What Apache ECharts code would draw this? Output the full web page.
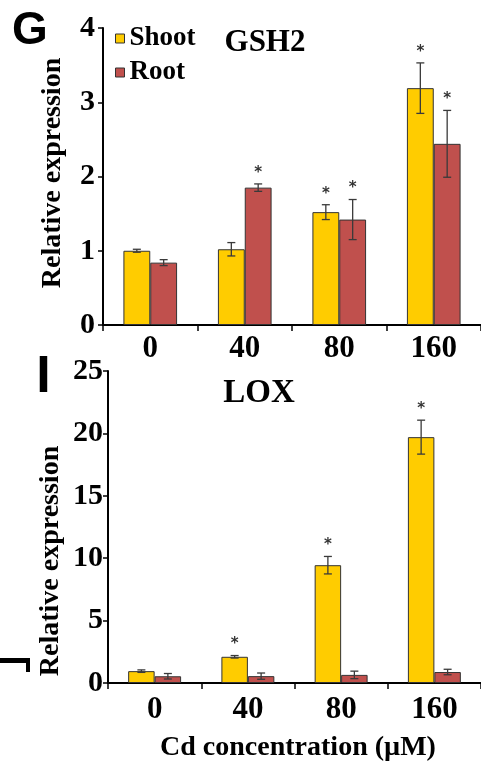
<!DOCTYPE html>
<html>
<head>
<meta charset="utf-8">
<script src="https://cdn.jsdelivr.net/npm/echarts@6/dist/echarts.min.js"></script>
<style>
  html, body { margin: 0; padding: 0; background: #fff; }
  #chart { width: 481px; height: 766px; }
</style>
</head>
<body>
<div id="chart"></div>
<script>
// Cd concentration (µM)
const categories = ['0', '40', '80', '160']

// GSH2
const gshShoot = [1.0, 1.02, 1.52, 3.19]
const gshShootErr = [0.02, 0.09, 0.10, 0.34]
const gshShootSig = [0, 0, 1, 1]
const gshRoot = [0.84, 1.85, 1.42, 2.44]
const gshRootErr = [0.04, 0.05, 0.27, 0.45]
const gshRootSig = [0, 1, 1, 1]

// LOX
const loxShoot = [0.95, 2.1, 9.44, 19.7]
const loxShootErr = [0.1, 0.1, 0.7, 1.36]
const loxShootSig = [0, 1, 1, 1]
const loxRoot = [0.54, 0.55, 0.65, 0.88]
const loxRootErr = [0.22, 0.25, 0.3, 0.22]
const loxRootSig = [0, 0, 0, 0]

const gshTicks = { min: 0, max: 4, interval: 1 }
const loxTicks = { min: 0, max: 25, interval: 5 }

const SHOOT = '#FFCC00'
const ROOT = '#C0504D'
const serif = 'Liberation Serif'

const chart = echarts.init(document.getElementById('chart'))

// 误差线 + 显著性星号
const errRender = (offsetFrac) => (params, api) => {
  const i = api.value(0)
  const m = api.value(1)
  const e = api.value(2)
  const sig = api.value(3)
  const band = api.size([1, 0])[0]
  const hi = api.coord([i, m + e])
  const lo = api.coord([i, Math.max(0, m - e)])
  const x = hi[0] + band * offsetFrac
  const cap = 4
  const ls = { stroke: '#3a3a3a', lineWidth: 1.3 }
  const children = [
    { type: 'line', shape: { x1: x, y1: hi[1], x2: x, y2: lo[1] }, style: ls },
    { type: 'line', shape: { x1: x - cap, y1: hi[1], x2: x + cap, y2: hi[1] }, style: ls },
    { type: 'line', shape: { x1: x - cap, y1: lo[1], x2: x + cap, y2: lo[1] }, style: ls }
  ]
  if (sig) {
    children.push({
      type: 'text',
      x: x,
      y: hi[1] - 11,
      style: {
        text: '*',
        fill: '#333',
        font: 'bold 15px "DejaVu Sans"',
        align: 'center',
        verticalAlign: 'middle'
      }
    })
  }
  return { type: 'group', children }
}

const errData = (vals, errs, sig) => vals.map((v, i) => [i, v, errs[i], sig[i]])

const barSeries = (name, data, idx, color) => ({
  name,
  type: 'bar',
  data,
  xAxisIndex: idx,
  yAxisIndex: idx,
  barWidth: '28.4%',
  barGap: '0%',
  itemStyle: { color, borderColor: '#333', borderWidth: 1 },
  z: 2
})

const errSeries = (data, idx, frac) => ({
  type: 'custom',
  data,
  xAxisIndex: idx,
  yAxisIndex: idx,
  renderItem: errRender(frac),
  encode: { x: 0, y: 1 },
  z: 3,
  silent: true
})

const xAxisBase = (idx, margin) => ({
  type: 'category',
  gridIndex: idx,
  data: categories,
  axisLine: { lineStyle: { color: '#000', width: 2 } },
  axisTick: { show: true, length: 6, lineStyle: { color: '#000', width: 1.5 } },
  axisLabel: {
    margin,
    color: '#000',
    fontFamily: serif,
    fontWeight: 'bold',
    fontSize: 31
  }
})

const yAxisBase = (idx, ticks, margin) => ({
  type: 'value',
  gridIndex: idx,
  min: ticks.min,
  max: ticks.max,
  interval: ticks.interval,
  axisLine: { show: true, lineStyle: { color: '#000', width: 2 } },
  axisTick: { show: true, length: 5, lineStyle: { color: '#000', width: 1.5 } },
  splitLine: { show: false },
  axisLabel: {
    margin,
    color: '#000',
    fontFamily: serif,
    fontWeight: 'bold',
    fontSize: 30
  }
})

const option = {
  backgroundColor: '#fff',
  animation: false,
  title: [
    {
      text: 'GSH2',
      left: 260,
      top: 38,
      textAlign: 'center',
      textVerticalAlign: 'middle',
      textStyle: { fontFamily: serif, fontWeight: 'bold', fontSize: 31, color: '#000' }
    },
    {
      text: 'LOX',
      left: 254,
      top: 388,
      textAlign: 'center',
      textVerticalAlign: 'middle',
      textStyle: { fontFamily: serif, fontWeight: 'bold', fontSize: 33, color: '#000' }
    }
  ],
  legend: {
    orient: 'vertical',
    left: 110,
    top: 20,
    itemWidth: 9,
    itemHeight: 9,
    itemGap: 7,
    icon: 'rect',
    data: ['Shoot', 'Root'],
    itemStyle: { borderColor: '#333', borderWidth: 1 },
    textStyle: { fontFamily: serif, fontWeight: 'bold', fontSize: 27, color: '#000' }
  },
  grid: [
    { left: 103, top: 28, width: 388, height: 297 },
    { left: 108, top: 371, width: 386, height: 312 }
  ],
  xAxis: [xAxisBase(0, 8), xAxisBase(1, 11)],
  yAxis: [yAxisBase(0, gshTicks, 8), yAxisBase(1, loxTicks, 5)],
  series: [
    barSeries('Shoot', gshShoot, 0, SHOOT),
    barSeries('Root', gshRoot, 0, ROOT),
    errSeries(errData(gshShoot, gshShootErr, gshShootSig), 0, -0.142),
    errSeries(errData(gshRoot, gshRootErr, gshRootSig), 0, 0.142),
    barSeries('Shoot', loxShoot, 1, SHOOT),
    barSeries('Root', loxRoot, 1, ROOT),
    errSeries(errData(loxShoot, loxShootErr, loxShootSig), 1, -0.142),
    errSeries(errData(loxRoot, loxRootErr, loxRootSig), 1, 0.142)
  ],
  graphic: [
    // 面板字母
    {
      type: 'text', x: 12, y: 31,
      style: { text: 'G', font: 'bold 46px "Liberation Sans"', fill: '#000', verticalAlign: 'middle' }
    },
    {
      type: 'text', x: 43.5, y: 378,
      style: { text: 'I', font: 'bold 52px "Liberation Sans"', fill: '#000', align: 'center', verticalAlign: 'middle' }
    },
    // 邻图残留的笔画
    { type: 'rect', shape: { x: 0, y: 658, width: 30, height: 5 }, style: { fill: '#000' } },
    { type: 'rect', shape: { x: 26, y: 658, width: 4, height: 14 }, style: { fill: '#000' } },
    // 坐标轴标题
    {
      type: 'text', x: 53, y: 173, rotation: Math.PI / 2,
      style: { text: 'Relative expression', font: 'bold 28px "Liberation Serif"', fill: '#000', align: 'center', verticalAlign: 'middle' }
    },
    {
      type: 'text', x: 51, y: 561, rotation: Math.PI / 2,
      style: { text: 'Relative expression', font: 'bold 28px "Liberation Serif"', fill: '#000', align: 'center', verticalAlign: 'middle' }
    },
    {
      type: 'text', x: 298, y: 748,
      style: { text: 'Cd concentration (µM)', font: 'bold 28px "Liberation Serif"', fill: '#000', align: 'center', verticalAlign: 'middle' }
    }
  ]
}

chart.setOption(option)
</script>
</body>
</html>
